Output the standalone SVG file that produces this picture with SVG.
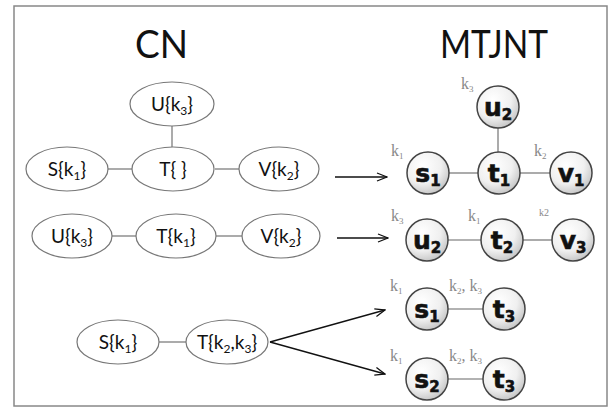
<svg xmlns="http://www.w3.org/2000/svg" width="611" height="409" viewBox="0 0 611 409">
<defs>
<radialGradient id="g" cx="0.38" cy="0.32" r="0.72">
<stop offset="0" stop-color="#ffffff"/>
<stop offset="0.6" stop-color="#f0f0f0"/>
<stop offset="1" stop-color="#c4c4c4"/>
</radialGradient>
<marker id="ah" markerWidth="12" markerHeight="10" refX="11" refY="5" orient="auto" markerUnits="userSpaceOnUse">
<path d="M1,1 L11,5 L1,9" fill="none" stroke="#111" stroke-width="1.3"/>
</marker>
</defs>
<style>
.title{font-family:Lato,"Open Sans","Liberation Sans",sans-serif;font-size:38px;fill:#111}
.el{fill:#fff;stroke:#777;stroke-width:1.2}
.et{font-family:Lato,"Open Sans","Liberation Sans",sans-serif;font-size:19px;fill:#111;text-anchor:middle}
.sub{font-size:12px}
.c{fill:url(#g);stroke:#444;stroke-width:1.5}
.ct{font-family:"DejaVu Sans",Verdana,sans-serif;font-weight:bold;font-size:25px;fill:#111;text-anchor:middle;stroke:#111;stroke-width:0.6}
.cs{font-size:15px}
.k{font-family:"Liberation Serif",serif;font-size:16px;fill:#888}
.ks{font-size:9px}
.ln{stroke:#666;stroke-width:1.1;fill:none}
.ar{stroke:#111;stroke-width:1.3;fill:none}
</style>
<rect x="14" y="6" width="593" height="400" fill="#fff" stroke="#888" stroke-width="1.5"/>
<text class="title" x="135" y="58" textLength="53" lengthAdjust="spacingAndGlyphs">CN</text>
<text class="title" x="440" y="58" textLength="108" lengthAdjust="spacingAndGlyphs">MTJNT</text>

<g id="connectors">
<line class="ln" x1="172" y1="126" x2="172" y2="147"/>
<line class="ln" x1="107" y1="169" x2="132" y2="169"/>
<line class="ln" x1="215" y1="169" x2="239" y2="169"/>
<line class="ln" x1="112" y1="236" x2="137" y2="236"/>
<line class="ln" x1="216" y1="236" x2="243" y2="236"/>
<line class="ln" x1="159" y1="342" x2="186" y2="342"/>
<line class="ar" x1="335" y1="177" x2="387" y2="177" marker-end="url(#ah)"/>
<line class="ar" x1="337" y1="238" x2="388" y2="238" marker-end="url(#ah)"/>
<line class="ar" x1="270" y1="342" x2="385" y2="310" marker-end="url(#ah)"/>
<line class="ar" x1="270" y1="342" x2="385" y2="374" marker-end="url(#ah)"/>
<line class="ln" x1="498" y1="128" x2="498" y2="152"/>
<line class="ln" x1="449" y1="173" x2="478" y2="173"/>
<line class="ln" x1="520" y1="173" x2="550" y2="173"/>
<line class="ln" x1="448" y1="240" x2="481" y2="240"/>
<line class="ln" x1="523" y1="240" x2="552" y2="240"/>
<line class="ln" x1="448" y1="309" x2="483" y2="309"/>
<line class="ln" x1="448" y1="379" x2="483" y2="379"/>
</g>

<g id="cn-u1"><ellipse class="el" cx="172" cy="104" rx="42" ry="22"/><text class="et" x="172" y="111">U{k<tspan class="sub" dy="4">3</tspan><tspan dy="-4">}</tspan></text></g>
<g id="cn-s1"><ellipse class="el" cx="67" cy="169" rx="41" ry="22"/><text class="et" x="67" y="176">S{k<tspan class="sub" dy="4">1</tspan><tspan dy="-4">}</tspan></text></g>
<g id="cn-t1"><ellipse class="el" cx="173" cy="169" rx="41" ry="22"/><text class="et" x="173" y="176">T{ }</text></g>
<g id="cn-v1"><ellipse class="el" cx="279" cy="169" rx="40" ry="22"/><text class="et" x="279" y="176">V{k<tspan class="sub" dy="4">2</tspan><tspan dy="-4">}</tspan></text></g>

<g id="cn-u2"><ellipse class="el" cx="72" cy="236" rx="40" ry="22"/><text class="et" x="72" y="243">U{k<tspan class="sub" dy="4">3</tspan><tspan dy="-4">}</tspan></text></g>
<g id="cn-t2"><ellipse class="el" cx="176" cy="236" rx="40" ry="22"/><text class="et" x="176" y="243">T{k<tspan class="sub" dy="4">1</tspan><tspan dy="-4">}</tspan></text></g>
<g id="cn-v2"><ellipse class="el" cx="281" cy="236" rx="39" ry="22"/><text class="et" x="281" y="243">V{k<tspan class="sub" dy="4">2</tspan><tspan dy="-4">}</tspan></text></g>

<g id="cn-s3"><ellipse class="el" cx="118" cy="342" rx="41" ry="22"/><text class="et" x="118" y="349">S{k<tspan class="sub" dy="4">1</tspan><tspan dy="-4">}</tspan></text></g>
<g id="cn-t3"><ellipse class="el" cx="227" cy="342" rx="41" ry="22"/><text class="et" x="227" y="349">T{k<tspan class="sub" dy="4">2</tspan><tspan dy="-4">,k</tspan><tspan class="sub" dy="4">3</tspan><tspan dy="-4">}</tspan></text></g>

<g id="m-u2a"><circle class="c" cx="498" cy="107" r="21"/><text class="ct" x="498" y="116">u<tspan class="cs" dy="4">2</tspan></text><text class="k" x="461" y="89">k<tspan class="ks" dy="3">3</tspan></text></g>
<g id="m-s1a"><circle class="c" cx="428" cy="173" r="21"/><text class="ct" x="428" y="182">s<tspan class="cs" dy="4">1</tspan></text><text class="k" x="391" y="156">k<tspan class="ks" dy="3">1</tspan></text></g>
<g id="m-t1"><circle class="c" cx="499" cy="173" r="21"/><text class="ct" x="499" y="182">t<tspan class="cs" dy="4">1</tspan></text></g>
<g id="m-v1"><circle class="c" cx="571" cy="173" r="21"/><text class="ct" x="571" y="182">v<tspan class="cs" dy="4">1</tspan></text><text class="k" x="534" y="156">k<tspan class="ks" dy="3">2</tspan></text></g>

<g id="m-u2b"><circle class="c" cx="427" cy="240" r="21"/><text class="ct" x="427" y="249">u<tspan class="cs" dy="4">2</tspan></text><text class="k" x="391" y="221">k<tspan class="ks" dy="3">3</tspan></text></g>
<g id="m-t2"><circle class="c" cx="502" cy="240" r="21"/><text class="ct" x="502" y="249">t<tspan class="cs" dy="4">2</tspan></text><text class="k" x="468" y="221">k<tspan class="ks" dy="3">1</tspan></text></g>
<g id="m-v3"><circle class="c" cx="573" cy="240" r="21"/><text class="ct" x="573" y="249">v<tspan class="cs" dy="4">3</tspan></text><text class="k" x="539" y="216" style="font-size:10px">k2</text></g>

<g id="m-s1b"><circle class="c" cx="427" cy="309" r="21"/><text class="ct" x="427" y="318">s<tspan class="cs" dy="4">1</tspan></text><text class="k" x="390" y="291">k<tspan class="ks" dy="3">1</tspan></text></g>
<g id="m-t3a"><circle class="c" cx="504" cy="309" r="21"/><text class="ct" x="504" y="318">t<tspan class="cs" dy="4">3</tspan></text><text class="k" x="449" y="291">k<tspan class="ks" dy="3">2</tspan><tspan dy="-3">, k</tspan><tspan class="ks" dy="3">3</tspan></text></g>

<g id="m-s2"><circle class="c" cx="427" cy="379" r="21"/><text class="ct" x="427" y="388">s<tspan class="cs" dy="4">2</tspan></text><text class="k" x="390" y="361">k<tspan class="ks" dy="3">1</tspan></text></g>
<g id="m-t3b"><circle class="c" cx="504" cy="379" r="21"/><text class="ct" x="504" y="388">t<tspan class="cs" dy="4">3</tspan></text><text class="k" x="449" y="361">k<tspan class="ks" dy="3">2</tspan><tspan dy="-3">, k</tspan><tspan class="ks" dy="3">3</tspan></text></g>
</svg>
